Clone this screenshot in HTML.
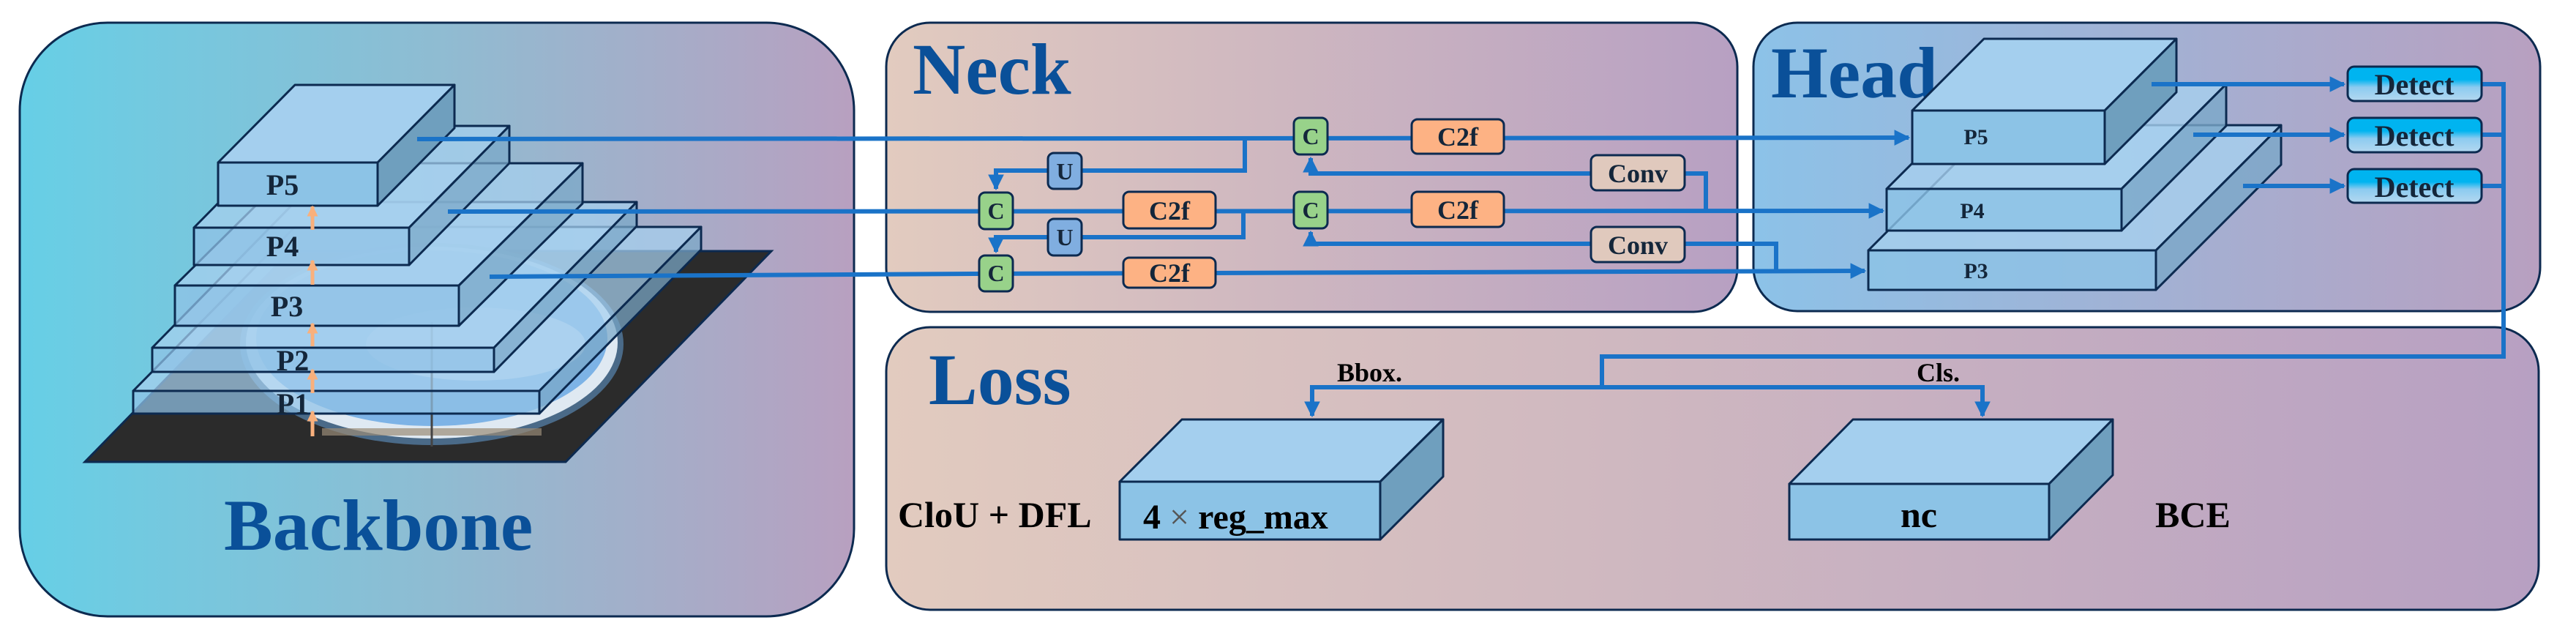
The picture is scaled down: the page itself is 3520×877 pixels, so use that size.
<!DOCTYPE html>
<html><head><meta charset="utf-8"><style>
html,body{margin:0;padding:0;background:#fff;}
svg{display:block;}
text{font-family:"Liberation Serif","Times New Roman","Noto Serif CJK SC","DejaVu Serif",serif;font-weight:bold;fill:#14263a;}
</style></head><body>
<svg width="3520" height="877" viewBox="0 0 3520 877" xmlns="http://www.w3.org/2000/svg">
<defs>
<linearGradient id="gB" gradientUnits="userSpaceOnUse" x1="27" y1="0" x2="1167" y2="0"><stop offset="0" stop-color="#66cfe6"/><stop offset="0.5" stop-color="#8fbcd2"/><stop offset="1" stop-color="#b8a0c0"/></linearGradient>
<linearGradient id="gN" gradientUnits="userSpaceOnUse" x1="1211" y1="0" x2="2374" y2="0"><stop offset="0" stop-color="#e2cbbf"/><stop offset="1" stop-color="#b7a0c2"/></linearGradient>
<linearGradient id="gH" gradientUnits="userSpaceOnUse" x1="2396" y1="0" x2="3471" y2="0"><stop offset="0" stop-color="#8cc2e8"/><stop offset="1" stop-color="#b8a0c0"/></linearGradient>
<linearGradient id="gL" gradientUnits="userSpaceOnUse" x1="1211" y1="0" x2="3469" y2="0"><stop offset="0" stop-color="#e2cbbf"/><stop offset="1" stop-color="#b7a0c2"/></linearGradient>
<linearGradient id="gD" x1="0" y1="0" x2="0" y2="1"><stop offset="0" stop-color="#00b4f0"/><stop offset="0.38" stop-color="#00b4f0"/><stop offset="0.6" stop-color="#8ccbf0"/><stop offset="1" stop-color="#b4d8f0"/></linearGradient>
<marker id="ar" viewBox="0 0 10 10" refX="9" refY="5" markerWidth="3.6" markerHeight="3.6" orient="auto"><path d="M0,0 L10,5 L0,10 z" fill="#1a73c8"/></marker>
<marker id="ao" viewBox="0 0 10 10" refX="9" refY="5" markerWidth="3" markerHeight="3" orient="auto"><path d="M0,0 L10,5 L0,10 z" fill="#f9b07c"/></marker>
</defs>

<rect x="27" y="31" width="1140" height="811" rx="120" fill="url(#gB)" stroke="#0c2a50" stroke-width="3"/>
<rect x="1211" y="31" width="1163" height="395" rx="60" fill="url(#gN)" stroke="#0c2a50" stroke-width="3"/>
<rect x="2396" y="31" width="1075" height="394" rx="60" fill="url(#gH)" stroke="#0c2a50" stroke-width="3"/>
<rect x="1211" y="447" width="2258" height="386" rx="60" fill="url(#gL)" stroke="#0c2a50" stroke-width="3"/>

<text x="306" y="751" font-size="100" style="fill:#0a5099">Backbone</text>
<text x="1247" y="128" font-size="100" style="fill:#0a5099">Neck</text>
<text x="2420" y="133" font-size="100" style="fill:#0a5099">Head</text>
<text x="1269" y="552" font-size="100" style="fill:#0a5099">Loss</text>

<polygon points="397,343 1054,343 773,631 116,631" fill="#2b2b2b" stroke="#0c2a50" stroke-width="3"/>
<ellipse cx="590" cy="470" rx="262" ry="138" fill="#4a6a88"/>
<ellipse cx="590" cy="468" rx="254" ry="131" fill="#dfe9f2"/>
<ellipse cx="590" cy="462" rx="240" ry="120" fill="#7db3e6"/>
<ellipse cx="650" cy="470" rx="150" ry="50" fill="#cfe2f4" opacity="0.7"/>
<rect x="440" y="585" width="300" height="10" fill="#9a8c78" opacity="0.7"/>
<line x1="590" y1="440" x2="590" y2="610" stroke="#444" stroke-width="3"/>
<g stroke="#0c2a50" stroke-width="3" stroke-linejoin="round">
<g fill-opacity="0.72">
<polygon points="182,534 737,534 958,310 403,310" fill="#a6d0ee"/>
<polygon points="737,534 958,310 958,341 737,565" fill="#7aa8c8"/>
<rect x="182" y="534" width="555" height="31" fill="#90c2e6"/>
<polygon points="208,475 675,475 870,276 403,276" fill="#a6d0ee"/>
<polygon points="675,475 870,276 870,309 675,508" fill="#7aa8c8"/>
<rect x="208" y="475" width="467" height="33" fill="#90c2e6"/>
<polygon points="239,390 627,390 796,223 408,223" fill="#a6d0ee"/>
<polygon points="627,390 796,223 796,278 627,445" fill="#7aa8c8"/>
<rect x="239" y="390" width="388" height="55" fill="#90c2e6"/>
<polygon points="265,311 559,311 696,172 402,172" fill="#a6d0ee"/>
<polygon points="559,311 696,172 696,223 559,362" fill="#7aa8c8"/>
<rect x="265" y="311" width="294" height="51" fill="#90c2e6"/>
</g>
<polygon points="298,222 516,222 621,116 403,116" fill="#a4cfee"/>
<polygon points="516,222 621,116 621,175 516,281" fill="#6f9fbe"/>
<rect x="298" y="222" width="218" height="59" fill="#8cc3e6"/>
</g>
<text x="386" y="266" font-size="40" text-anchor="middle">P5</text>
<text x="386" y="350" font-size="40" text-anchor="middle">P4</text>
<text x="392" y="432" font-size="40" text-anchor="middle">P3</text>
<text x="400" y="506" font-size="40" text-anchor="middle">P2</text>
<text x="400" y="565" font-size="40" text-anchor="middle">P1</text>
<g stroke="#f9b07c" stroke-width="5" marker-end="url(#ao)">
<line x1="427" y1="314" x2="427" y2="282"/>
<line x1="427" y1="389" x2="427" y2="356"/>
<line x1="427" y1="473" x2="427" y2="442"/>
<line x1="427" y1="537" x2="427" y2="505"/>
<line x1="427" y1="596" x2="427" y2="562"/>
</g>

<g stroke="#0c2a50" stroke-width="3" stroke-linejoin="round">
<g fill-opacity="0.8">
<polygon points="2553,342 2946,342 3117,171 2724,171" fill="#a6d0ee"/>
<polygon points="2946,342 3117,171 3117,225 2946,396" fill="#7aa8c8"/>
<rect x="2553" y="342" width="393" height="54" fill="#8cc3e6"/>
<polygon points="2578,258 2899,258 3042,115 2721,115" fill="#a6d0ee"/>
<polygon points="2899,258 3042,115 3042,172 2899,315" fill="#7aa8c8"/>
<rect x="2578" y="258" width="321" height="57" fill="#8cc3e6"/>
</g>
<polygon points="2613,151 2876,151 2974,53 2711,53" fill="#a4cfee"/>
<polygon points="2876,151 2974,53 2974,126 2876,224" fill="#6f9fbe"/>
<rect x="2613" y="151" width="263" height="73" fill="#8cc3e6"/>
</g>
<text x="2700" y="197" font-size="30" text-anchor="middle">P5</text>
<text x="2695" y="298" font-size="30" text-anchor="middle">P4</text>
<text x="2700" y="380" font-size="30" text-anchor="middle">P3</text>

<g stroke="#1a73c8" stroke-width="6" fill="none">
<line x1="570" y1="190" x2="2608" y2="188" marker-end="url(#ar)"/>
<line x1="612" y1="289" x2="2573" y2="288" marker-end="url(#ar)"/>
<polyline points="669,378 1330,374 2548,370" marker-end="url(#ar)"/>
<polyline points="1701,188 1701,233 1478,233"/>
<polyline points="1432,233 1361,233 1361,258" marker-end="url(#ar)"/>
<polyline points="1699,288 1699,324 1478,324"/>
<polyline points="1432,324 1361,324 1361,344" marker-end="url(#ar)"/>
<polyline points="2174,237 1791,237 1791,216" marker-end="url(#ar)"/>
<polyline points="2302,237 2331,237 2331,288"/>
<polyline points="2174,333 1791,333 1791,317" marker-end="url(#ar)"/>
<polyline points="2302,333 2427,333 2427,370"/>
<line x1="2940" y1="115" x2="3203" y2="115" marker-end="url(#ar)"/>
<line x1="2997" y1="184" x2="3203" y2="184" marker-end="url(#ar)"/>
<line x1="3065" y1="254" x2="3203" y2="254" marker-end="url(#ar)"/>
<line x1="3391" y1="115" x2="3421" y2="115"/>
<line x1="3391" y1="184" x2="3421" y2="184"/>
<line x1="3391" y1="254" x2="3421" y2="254"/>
<polyline points="3421,112 3421,487 2189,487 2189,529"/>
<polyline points="2189,529 1793,529 1793,568" marker-end="url(#ar)"/>
<polyline points="2189,529 2709,529 2709,568" marker-end="url(#ar)"/>
</g>

<g stroke="#0c2a50" stroke-width="3">
<rect x="1768" y="161" width="46" height="50" rx="8" fill="#98d28a"/>
<rect x="1929" y="163" width="126" height="47" rx="8" fill="#fdb284"/>
<rect x="1432" y="209" width="46" height="49" rx="8" fill="#80aee0"/>
<rect x="2174" y="212" width="128" height="48" rx="8" fill="#e0c9bd"/>
<rect x="1338" y="263" width="46" height="50" rx="8" fill="#98d28a"/>
<rect x="1535" y="262" width="126" height="50" rx="8" fill="#fdb284"/>
<rect x="1768" y="262" width="46" height="50" rx="8" fill="#98d28a"/>
<rect x="1929" y="262" width="126" height="48" rx="8" fill="#fdb284"/>
<rect x="1432" y="299" width="46" height="50" rx="8" fill="#80aee0"/>
<rect x="2174" y="310" width="128" height="48" rx="8" fill="#e0c9bd"/>
<rect x="1338" y="349" width="46" height="49" rx="8" fill="#98d28a"/>
<rect x="1535" y="352" width="126" height="41" rx="8" fill="#fdb284"/>
</g>
<g font-size="32" text-anchor="middle">
<text x="1791" y="197">C</text>
<text x="1455" y="245">U</text>
<text x="1361" y="299">C</text>
<text x="1791" y="298">C</text>
<text x="1455" y="335">U</text>
<text x="1361" y="384">C</text>
</g>
<g font-size="36" text-anchor="middle">
<text x="1992" y="199">C2f</text>
<text x="1598" y="300">C2f</text>
<text x="1992" y="299">C2f</text>
<text x="1598" y="385">C2f</text>
<text x="2238" y="249">Conv</text>
<text x="2238" y="347">Conv</text>
</g>

<g stroke="#0c2a50" stroke-width="3">
<rect x="3208" y="91" width="183" height="47" rx="9" fill="url(#gD)"/>
<rect x="3208" y="161" width="183" height="47" rx="9" fill="url(#gD)"/>
<rect x="3208" y="231" width="183" height="46" rx="9" fill="url(#gD)"/>
</g>
<g font-size="40" text-anchor="middle">
<text x="3299" y="129">Detect</text>
<text x="3299" y="199">Detect</text>
<text x="3299" y="269">Detect</text>
</g>

<g stroke="#0c2a50" stroke-width="3" stroke-linejoin="round">
<polygon points="1530,658 1886,658 1972,573 1615,573" fill="#a4cfee"/>
<polygon points="1886,658 1972,573 1972,651 1886,737" fill="#6f9fbe"/>
<rect x="1530" y="658" width="356" height="79" fill="#8cc3e6"/>
<polygon points="2445,661 2800,661 2887,573 2532,573" fill="#a4cfee"/>
<polygon points="2800,661 2887,573 2887,649 2800,737" fill="#6f9fbe"/>
<rect x="2445" y="661" width="355" height="76" fill="#8cc3e6"/>
</g>
<text x="1827" y="521" font-size="36" style="fill:#000">Bbox.</text>
<text x="2619" y="521" font-size="36" style="fill:#000">Cls.</text>
<text x="1227" y="720" font-size="50" style="fill:#000">CloU + DFL</text>
<text x="1562" y="722" font-size="48" style="fill:#000">4 <tspan style="fill:#555;font-weight:normal">×</tspan> reg_max</text>
<text x="2622" y="720" font-size="50" text-anchor="middle" style="fill:#000">nc</text>
<text x="2945" y="720" font-size="50" style="fill:#000">BCE</text>
</svg>
</body></html>
